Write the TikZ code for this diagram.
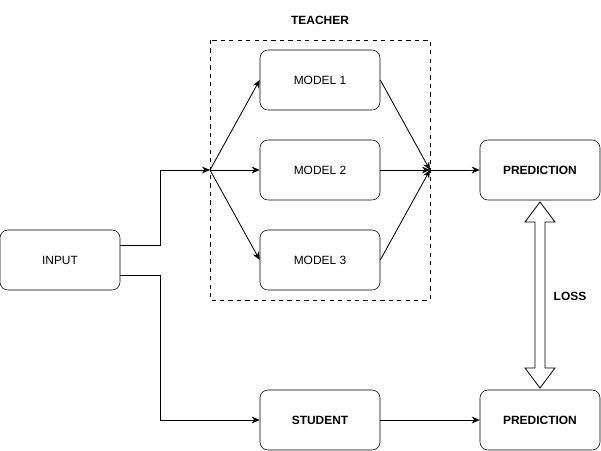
\documentclass[tikz,border=0pt]{standalone}
\usepackage{fontspec}
\setmainfont{Liberation Sans}
\usetikzlibrary{arrows.meta}

\begin{document}
\begin{tikzpicture}[x=0.025cm,y=-0.025cm,
		box/.style={draw,rounded corners=0.2cm,minimum width=3cm,minimum height=1.5cm,font=\fontsize{8.5}{10}\selectfont},
		boldbox/.style={box,font=\fontsize{8.5}{10}\selectfont\bfseries},
		link/.style={-{Stealth[length=0.2cm,width=0.17cm]},line width=0.6pt}]
			\useasboundingbox (0,0) rectangle (601,451);
			%
			\node[font=\fontsize{8.5}{10}\selectfont\bfseries] (teacher) at (320,20) {TEACHER};
			\draw[dashed,line width=0.5pt] (210,40) rectangle (430,300);
			%
			\node[box] (input) at (60,260) {INPUT};
			\node[box] (m1) at (320,80) {MODEL 1};
			\node[box] (m2) at (320,170) {MODEL 2};
			\node[box] (m3) at (320,260) {MODEL 3};
			\node[boldbox] (predT) at (540,170) {PREDICTION};
			\node[boldbox] (student) at (320,420) {STUDENT};
			\node[boldbox] (predS) at (540,420) {PREDICTION};
			\node[font=\fontsize{8.5}{10}\selectfont\bfseries] (loss) at (570,296) {LOSS};
			%
			\coordinate (split) at (210,170);
			\coordinate (merge) at (430,170);
			%
			\draw[link] (input.east |- 0,245) -- (160,245) -- (160,170) -- (split);
			\draw[link] (split) -- (m1.west);
			\draw[link] (split) -- (m2.west);
			\draw[link] (split) -- (m3.west);
			\draw[link] (m1.east) -- (merge);
			\draw[link] (m2.east) -- (merge);
			\draw[link] (m3.east) -- (merge);
			\draw[link] (merge) -- (predT.west);
			\draw[link] (input.east |- 0,275) -- (160,275) -- (160,420) -- (student.west);
			\draw[link] (student.east) -- (predS.west);
			%
			\draw[line width=0.6pt] (540,202) -- (555,222) -- (545,222) -- (545,368) -- (555,368)
				-- (540,388) -- (525,368) -- (535,368) -- (535,222) -- (525,222) -- cycle;
			%
		\end{tikzpicture}
\end{document}
